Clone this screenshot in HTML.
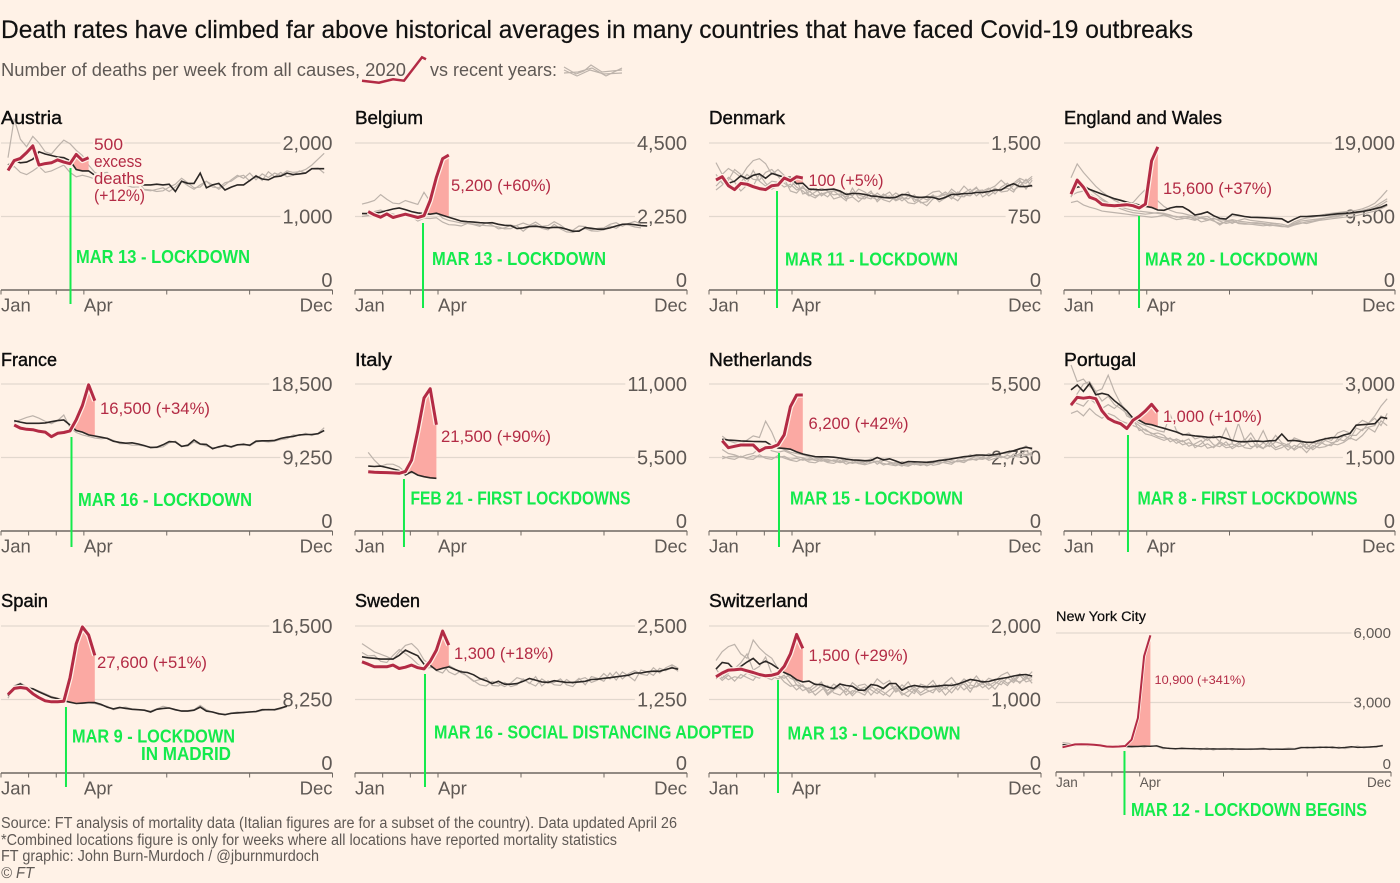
<!DOCTYPE html>
<html lang="en">
<head>
<meta charset="utf-8">
<title>Death rates have climbed far above historical averages</title>
<style>
html,body{margin:0;padding:0;background:#fff2e7;}
svg{display:block;font-family:"Liberation Sans",sans-serif;}
.title{font-size:25px;fill:#111;stroke:#111;stroke-width:.2px;}
.sub{font-size:18px;fill:#5f5955;}
.pt{font-size:18.5px;fill:#0d0d0d;stroke:#0d0d0d;stroke-width:.4px;}
.red{font-size:16.5px;fill:#b32b45;stroke:#fff2e7;stroke-width:4px;paint-order:stroke;stroke-linejoin:round;}
.grn{font-size:18px;font-weight:bold;fill:#14ea4c;}
.foot{font-size:15.5px;fill:#5f5955;}
</style>
</head>
<body>
<svg id="chart" xmlns="http://www.w3.org/2000/svg" width="1400" height="883" viewBox="0 0 1400 883">
<rect x="0" y="0" width="1400" height="883" fill="#fff2e7"/>
<g id="panels"></g>

<text class="title" x="1" y="38" textLength="1192" lengthAdjust="spacingAndGlyphs">Death rates have climbed far above historical averages in many countries that have faced Covid-19 outbreaks</text>
<text class="sub" x="1" y="76" textLength="405" lengthAdjust="spacingAndGlyphs">Number of deaths per week from all causes, 2020</text>
<polyline points="362,80.7 379,82.7 393,79.3 404,80.7 422,57.3 426,59.3" fill="none" stroke="#b32b45" stroke-width="2.5"/>
<text class="sub" x="430" y="76" textLength="127" lengthAdjust="spacingAndGlyphs">vs recent years:</text>
<g fill="none" stroke="#bdb3ab" stroke-width="1.2">
<polyline points="564,67 576,74 584,71 591,65 602,72 622,70"/>
<polyline points="564,70 577,76 590,70 604,74 622,73"/>
<polyline points="564,73 578,72 592,68 606,76 622,68"/>
</g>

<text class="pt" x="1" y="124" textLength="61" lengthAdjust="spacingAndGlyphs">Austria</text>
<text class="pt" x="355" y="124" textLength="68" lengthAdjust="spacingAndGlyphs">Belgium</text>
<text class="pt" x="709" y="124" textLength="76" lengthAdjust="spacingAndGlyphs">Denmark</text>
<text class="pt" x="1064" y="124" textLength="158" lengthAdjust="spacingAndGlyphs">England and Wales</text>
<text class="pt" x="1" y="366" textLength="56" lengthAdjust="spacingAndGlyphs">France</text>
<text class="pt" x="355" y="366" textLength="37" lengthAdjust="spacingAndGlyphs">Italy</text>
<text class="pt" x="709" y="366" textLength="103" lengthAdjust="spacingAndGlyphs">Netherlands</text>
<text class="pt" x="1064" y="366" textLength="72" lengthAdjust="spacingAndGlyphs">Portugal</text>
<text class="pt" x="1" y="607" textLength="47" lengthAdjust="spacingAndGlyphs">Spain</text>
<text class="pt" x="355" y="607" textLength="65" lengthAdjust="spacingAndGlyphs">Sweden</text>
<text class="pt" x="709" y="607" textLength="99" lengthAdjust="spacingAndGlyphs">Switzerland</text>
<text class="pt" x="1056" y="621" textLength="90" lengthAdjust="spacingAndGlyphs" style="font-size:13.5px;stroke-width:.2px">New York City</text>

<g id="annotations">
<text class="red" x="94" y="150" textLength="29" lengthAdjust="spacingAndGlyphs">500</text>
<text class="red" x="94" y="167" textLength="48" lengthAdjust="spacingAndGlyphs">excess</text>
<text class="red" x="94" y="184" textLength="50" lengthAdjust="spacingAndGlyphs">deaths</text>
<text class="red" x="94" y="201" textLength="51" lengthAdjust="spacingAndGlyphs">(+12%)</text>
<text class="red" x="451" y="191" textLength="100" lengthAdjust="spacingAndGlyphs">5,200 (+60%)</text>
<text class="red" x="808.5" y="186" textLength="75" lengthAdjust="spacingAndGlyphs">100 (+5%)</text>
<text class="red" x="1163" y="194" textLength="109" lengthAdjust="spacingAndGlyphs">15,600 (+37%)</text>
<text class="red" x="100" y="414" textLength="110" lengthAdjust="spacingAndGlyphs">16,500 (+34%)</text>
<text class="red" x="441" y="442" textLength="110" lengthAdjust="spacingAndGlyphs">21,500 (+90%)</text>
<text class="red" x="808.5" y="429" textLength="100" lengthAdjust="spacingAndGlyphs">6,200 (+42%)</text>
<text class="red" x="1163" y="422" textLength="99" lengthAdjust="spacingAndGlyphs">1,000 (+10%)</text>
<text class="red" x="97" y="668" textLength="110" lengthAdjust="spacingAndGlyphs">27,600 (+51%)</text>
<text class="red" x="454" y="659" textLength="99.5" lengthAdjust="spacingAndGlyphs">1,300 (+18%)</text>
<text class="red" x="808.5" y="661" textLength="99.5" lengthAdjust="spacingAndGlyphs">1,500 (+29%)</text>
<text class="red" x="1154.5" y="684" textLength="91" lengthAdjust="spacingAndGlyphs" style="font-size:12px;stroke-width:3px">10,900 (+341%)</text>

<text class="grn" x="76" y="263" textLength="174" lengthAdjust="spacingAndGlyphs">MAR 13 - LOCKDOWN</text>
<text class="grn" x="432" y="265" textLength="174" lengthAdjust="spacingAndGlyphs">MAR 13 - LOCKDOWN</text>
<text class="grn" x="785" y="265.5" textLength="173" lengthAdjust="spacingAndGlyphs">MAR 11 - LOCKDOWN</text>
<text class="grn" x="1145" y="265.5" textLength="173" lengthAdjust="spacingAndGlyphs">MAR 20 - LOCKDOWN</text>
<text class="grn" x="78" y="506" textLength="174" lengthAdjust="spacingAndGlyphs">MAR 16 - LOCKDOWN</text>
<text class="grn" x="410.5" y="504.5" textLength="220" lengthAdjust="spacingAndGlyphs">FEB 21 - FIRST LOCKDOWNS</text>
<text class="grn" x="790" y="504.5" textLength="173" lengthAdjust="spacingAndGlyphs">MAR 15 - LOCKDOWN</text>
<text class="grn" x="1137.5" y="504.5" textLength="220" lengthAdjust="spacingAndGlyphs">MAR 8 - FIRST LOCKDOWNS</text>
<text class="grn" x="72" y="742.5" textLength="163" lengthAdjust="spacingAndGlyphs">MAR 9 - LOCKDOWN</text>
<text class="grn" x="141" y="760" textLength="90" lengthAdjust="spacingAndGlyphs">IN MADRID</text>
<text class="grn" x="434" y="738.5" textLength="320" lengthAdjust="spacingAndGlyphs">MAR 16 - SOCIAL DISTANCING ADOPTED</text>
<text class="grn" x="787.5" y="739.5" textLength="173" lengthAdjust="spacingAndGlyphs">MAR 13 - LOCKDOWN</text>
<text class="grn" x="1131" y="816" textLength="236" lengthAdjust="spacingAndGlyphs">MAR 12 - LOCKDOWN BEGINS</text>
</g>

<text class="foot" x="1" y="828" textLength="676" lengthAdjust="spacingAndGlyphs">Source: FT analysis of mortality data (Italian figures are for a subset of the country). Data updated April 26</text>
<text class="foot" x="1" y="845" textLength="616" lengthAdjust="spacingAndGlyphs">*Combined locations figure is only for weeks where all locations have reported mortality statistics</text>
<text class="foot" x="1" y="861" textLength="318" lengthAdjust="spacingAndGlyphs">FT graphic: John Burn-Murdoch / @jburnmurdoch</text>
<text class="foot" x="1" y="878" textLength="33" lengthAdjust="spacingAndGlyphs" font-style="italic">© FT</text>
</svg>

<script>
// ---- Data (deaths per week) ----
const monthTicks = [0, 1, 2, 3, 6, 9, 12];
const xLabels = ['Jan', 'Apr', 'Dec'];

const austriaTicks = ['2,000', '1,000', '0'];
const austriaTickValues = [2000, 1000, 0];
const austriaBlack = [1700,1760,1730,1740,1780,1880,1850,1830,1810,1800,1760,1640,1620,1620,1560,1530,1510,1500,1490,1470,1470,1440,1430,1430,1440,1430,1440,1340,1480,1450,1450,1590,1390,1430,1450,1360,1400,1430,1430,1490,1550,1510,1500,1540,1550,1590,1570,1580,1590,1650,1650,1650];
const austria2020 = [1626,1760,1790,1870,1960,1700,1720,1730,1770,1740,1718,1845,1763,1800];
const austriaGrey1 = [1800,2330,2050,1950,2090,2000,1880,1850,1950,2040,1990,1900,1830,1700,1600,1560,1550,1500,1480,1430,1400,1400,1370,1360,1340,1350,1400,1440,1520,1460,1390,1400,1480,1430,1370,1430,1500,1560,1520,1590,1500,1580,1530,1590,1560,1620,1600,1610,1640,1700,1780,1860];
const austriaGrey2 = [1640,1680,1600,1570,1620,1680,1600,1620,1660,1700,1600,1540,1560,1540,1510,1590,1600,1520,1500,1460,1470,1480,1360,1350,1370,1390,1340,1400,1480,1420,1370,1430,1480,1400,1390,1460,1480,1540,1560,1480,1560,1490,1610,1540,1600,1540,1560,1620,1590,1650,1660,1590];

const belgiumTicks = ['4,500', '2,250', '0'];
const belgiumTickValues = [4500, 2250, 0];
const belgiumBlack = [2340,2340,2350,2380,2430,2480,2510,2460,2400,2360,2340,2320,2350,2290,2230,2170,2110,2090,2080,2060,2050,2060,2010,1980,1970,1880,1900,1940,1950,1930,1900,1920,1910,1860,1800,1800,1910,1890,1860,1860,1900,1960,2010,2020,2000,1970,1960];
const belgium2020 = [null,2400,2300,2230,2330,2220,2270,2320,2270,2220,2275,2740,3450,4020,4130];
const belgiumGrey1 = [2630,2680,2740,2920,2780,2660,2640,2740,2680,2620,2990,2700,2400,2200,2130,2090,2050,2040,2020,1990,1970,1960,1930,1870,1880,1980,2050,1980,2080,1950,1970,2090,1990,1850,1830,1960,1940,1840,1890,1900,2010,2060,1950,2040,2100,2020];
const belgiumGrey2 = [2250,2280,2400,2450,2370,2330,2270,2300,2240,2110,2200,2190,2210,2080,2000,1990,1960,2040,2000,1950,2060,1990,1870,1900,1980,1960,1800,1950,2000,1890,1840,2010,1870,1780,1760,1830,1880,1810,1800,1840,1960,1890,2010,1990,1930,1900];

const denmarkTicks = ['1,500', '750', '0'];
const denmarkTickValues = [1500, 750, 0];
const denmarkBlack = [1133,1140,1090,1110,1165,1135,1170,1185,1140,1190,1170,1150,1150,1085,1090,1030,1025,1020,1025,1030,1010,975,985,985,975,960,955,945,940,945,975,970,950,945,950,945,925,945,975,975,985,985,995,995,1005,1020,1020,1060,1085,1055,1055,1065];
const denmark2020 = [1122,1156,1064,1024,1088,1080,1054,1035,1024,1064,1071,1143,1115,1156,1143];
const denmarkGrey1 = [1300,1180,1240,1200,1150,1250,1320,1340,1290,1180,1230,1170,1120,1050,1010,960,1000,1040,1010,930,950,990,960,1030,1000,950,920,980,940,990,950,890,880,920,960,1000,1010,950,1030,980,1060,1000,1040,990,1030,1060,1120,1060,1090,1140,1110,1160];
const denmarkGrey2 = [1060,1130,1060,1040,1100,1180,1130,1120,1200,1230,1160,1090,1050,1120,980,1000,1050,960,1000,1010,960,910,1040,940,930,990,960,920,900,960,910,960,930,900,860,930,960,1000,950,910,990,1030,960,1010,1040,980,1050,1090,1020,1060,1130,1050];
const denmarkGrey3 = [1020,1070,1150,1100,1010,1070,1060,1180,1090,1030,1060,1140,1010,990,1060,970,940,990,950,1020,1000,930,950,900,960,1010,900,960,1000,920,960,1000,900,950,920,970,900,940,1000,960,950,1000,1050,950,990,1040,1000,1010,1070,1120,1030,1120];
const denmarkGrey4 = [1180,1090,1120,1230,1180,1090,1220,1110,1060,1110,1100,1050,1080,1020,1040,1010,960,980,1000,970,980,950,1000,970,950,930,990,940,960,910,940,930,970,890,900,960,950,980,930,1000,970,960,1010,1020,960,1010,1030,1040,1000,1100,1090,1140];

const englandTicks = ['19,000', '9,500', '0'];
const englandTickValues = [19000, 9500, 0];
const englandBlack = [12900,13300,13400,13000,12700,12400,12100,11800,11600,11350,11150,11000,10800,10680,10340,10300,10600,10770,10750,10300,9700,9850,10100,9600,9250,9180,9800,9650,9500,9400,9380,9350,9300,9250,9200,8750,9150,9500,9500,9550,9600,9650,9750,9850,9900,9950,10050,10150,10300,10500,10700,11050];
const england2020 = [12400,14200,13300,12000,11700,11050,10950,10900,10950,11030,10900,10600,11100,16700,18500];
const englandGrey1 = [14500,16300,15200,14300,13400,12700,12100,11600,11200,11000,11300,12200,13000,12400,11500,10800,10300,10000,9900,9700,9500,9300,9000,9200,9100,9000,8600,9000,9200,9000,8900,8800,8700,8600,8500,8300,8800,9100,9300,9400,9600,9800,9900,10000,10100,10200,10300,10500,10800,11200,12000,12900];
const englandGrey2 = [12200,12600,12800,12400,12000,11600,11200,10900,10700,10500,10300,10200,10100,10000,9900,9800,9600,9500,9300,9200,9000,9400,9500,9000,8400,8900,9100,8900,8800,8700,8700,8600,8500,8600,8500,8300,8600,8900,9000,9100,9200,9300,9400,9500,9700,9800,9900,10100,10300,10600,11000,11500];
const englandGrey3 = [11300,11500,11000,10700,10500,10200,10100,10000,9900,9800,9700,9600,9500,9400,9500,9700,9400,9100,9200,9400,9300,8800,9000,9300,8900,8600,8800,8700,8600,8500,8400,8300,8400,8300,8200,8200,8500,8700,8600,8800,9000,9100,9200,9300,9400,9500,9600,9800,10000,10200,10500,10900];
const englandGrey4 = [12000,14200,13600,13000,12400,11800,11300,10900,10500,10200,10000,9900,9800,9900,10000,9900,9700,9400,9500,9500,9100,9300,9200,8900,8600,8800,9000,8600,8500,8500,8600,8500,8300,8400,8300,8100,8400,8600,8800,8900,9100,9300,9500,9700,9800,9900,10100,10300,10500,10800,11300,11800];

const franceTicks = ['18,500', '9,250', '0'];
const franceTickValues = [18500, 9250, 0];
const franceBlack = [null,13885,13700,13550,13550,13550,13600,13760,13900,13970,13340,12650,12450,12100,11950,11800,11650,11300,11150,11050,11100,10950,10750,10500,10550,10850,11250,11200,10650,10800,11450,10950,10900,10350,10600,10750,10600,10850,10900,10800,11300,11350,11350,11400,11650,11800,11900,12100,12150,12150,12250,12650];
const france2020 = [null,13340,12950,12800,12750,12550,12450,11870,12290,12400,12600,14000,15800,18400,16400];
const franceGrey1 = [null,13700,14000,14300,14500,14200,13800,13500,13900,14600,13000,12400,12100,11900,11700,11600,11700,11400,11000,11000,10800,10800,10700,10600,10500,10600,11100,11300,10700,10700,11200,10900,10700,10500,10500,10900,10500,10800,11000,10700,11200,11300,11200,11300,11500,11600,12100,12000,12300,12000,12300,13000];

const italyTicks = ['11,000', '5,500', '0'];
const italyTickValues = [11000, 5500, 0];
const italyBlack = [null,4860,4830,4860,4750,4640,4520,4200,4440,4180,4060,3980,3940];
const italy2020 = [null,4440,4400,4380,4370,4350,4320,4450,5300,7500,9950,10650,7950];
const italyGrey1 = [null,5880,5300,4850,5000,5000,4800,4400,4350,4450,4150,4050,3950];

const netherlandsTicks = ['5,500', '2,750', '0'];
const netherlandsTickValues = [5500, 2750, 0];
const netherlandsBlack = [null,3430,3400,3390,3370,3360,3350,3345,3340,3200,3110,3090,3060,2960,2880,2830,2780,2775,2775,2760,2730,2690,2660,2650,2630,2640,2750,2660,2700,2620,2530,2600,2590,2580,2570,2590,2640,2660,2700,2740,2780,2800,2840,2840,2830,2860,2900,2960,3000,3080,3130,3090];
const netherlands2020 = [null,3380,3118,3170,3217,3217,3217,2990,3118,3130,3230,3600,4650,5090,5090];
const netherlandsGrey1 = [null,3550,3380,3300,3260,3400,3560,3500,4110,3700,3150,3050,2950,2900,2850,2780,2650,2700,2680,2610,2720,2590,2560,2600,2520,2650,2580,2700,2560,2450,2600,2520,2540,2500,2580,2620,2610,2700,2680,2750,2700,2850,2780,2760,2900,2820,2920,2880,3000,3060,3180,3020];
const netherlandsGrey2 = [null,2700,2780,2800,2760,2740,2820,2780,2780,2750,2750,2800,2680,2720,2650,2700,2640,2610,2650,2620,2560,2600,2530,2580,2620,2560,2600,2530,2480,2440,2530,2470,2500,2460,2500,2570,2540,2580,2630,2590,2640,2660,2700,2680,2760,2800,2740,2830,2750,2900,2860,2940];
const netherlandsGrey3 = [null,3050,2900,2850,2760,2850,2900,3100,3200,3000,2950,3000,2900,2780,2740,2650,2700,2740,2590,2660,2600,2650,2680,2520,2590,2700,2500,2650,2590,2510,2430,2560,2480,2540,2440,2520,2600,2540,2500,2660,2620,2700,2800,2720,2700,2840,2800,2700,2880,2830,3000,2800];
const netherlandsGrey4 = [null,2800,2720,2680,2800,2700,2680,2850,2720,2680,2820,2730,2650,2600,2700,2580,2550,2660,2560,2530,2640,2500,2590,2520,2480,2540,2620,2470,2530,2560,2470,2420,2530,2450,2560,2460,2500,2620,2560,2610,2560,2700,2650,2780,2640,2720,2780,2720,2800,2760,2820,2880];

const portugalTicks = ['3,000', '1,500', '0'];
const portugalTickValues = [3000, 1500, 0];
const portugalBlack = [2880,2980,2850,3010,2780,2810,2780,2660,2560,2450,2300,2260,2190,2170,2130,2095,2060,2020,1970,1960,1940,1930,1915,1910,1925,1890,1850,1825,1820,1830,1835,1825,1840,1845,1980,1840,1850,1830,1810,1810,1850,1880,1905,1910,1960,1990,2160,2170,2180,2190,2320,2300];
const portugal2020 = [2570,2728,2710,2728,2700,2450,2300,2230,2190,2090,2260,2340,2450,2585,2430];
const portugalGrey1 = [3390,3050,3100,2950,2850,2900,3180,2850,2600,2450,2300,2200,2150,2100,2050,2020,2380,2050,1950,2000,1880,1920,1850,1950,1820,2100,1800,2200,1850,2000,1800,2050,1770,1950,1800,1750,1900,1850,1700,1800,1780,1900,1850,2000,2050,2000,2150,2260,2200,2350,2550,2700];
const portugalGrey2 = [2550,2800,3000,3050,2850,2650,2750,2580,2500,2400,2250,2150,2050,2000,1930,1900,1880,1850,1760,1800,1750,1720,1780,1700,1820,1750,1780,1720,1750,1900,1700,1800,1720,1820,1780,1650,1750,1700,1780,1660,1750,1850,1800,1830,1950,1880,2100,2050,2200,2300,2150,2400];
const portugalGrey3 = [2400,2450,2350,2500,2380,2300,2400,2350,2250,2200,2150,2100,1980,1950,1900,1850,1900,1790,1850,1730,1780,1850,1690,1720,1790,1700,1720,1800,1700,1680,1780,1690,1760,1660,1700,1780,1650,1730,1600,1750,1700,1720,1780,1760,1810,1900,1850,1950,2100,2020,2250,2150];
const portugalGrey4 = [2650,2600,2550,2700,2600,2500,2580,2500,2620,2350,2280,2050,2080,1980,2000,1950,1820,1880,1820,1880,1700,1780,1900,1760,1720,1820,1680,1760,1870,1720,1740,1680,1850,1700,1760,1720,1680,1800,1680,1700,1830,1760,1740,1880,1840,1950,1950,2080,2120,2150,2350,2280];

const spainTicks = ['16,500', '8,250', '0'];
const spainTickValues = [16500, 8250, 0];
const spainBlack = [8700,9700,10000,9500,9450,9100,8800,8500,8350,8100,7950,7800,7850,7900,7900,7700,7400,7200,7350,7250,7150,7100,7050,6850,7150,7250,7300,7100,6950,6950,7050,7400,6950,6850,6650,6550,6700,6750,6800,6850,6900,7100,7100,7100,7300,7500];
const spain2020 = [8800,9500,9600,9500,8900,8450,8100,7990,7990,8050,10700,14500,16400,15500,13200];
const spainGrey1 = [8400,9800,10100,9700,9500,9200,8900,8600,8400,8200,8000,7800,7800,7900,7800,7600,7500,7100,7300,7400,7200,7100,7050,6950,7200,7500,7300,7050,7000,7000,7100,7600,7100,6800,6700,6500,6700,6850,6750,6900,6850,7000,7150,7050,7200,7500];

const swedenTicks = ['2,500', '1,250', '0'];
const swedenTickValues = [2500, 1250, 0];
const swedenBlack = [1977,1960,1950,1937,1937,1937,2000,2090,2040,1994,1850,1830,1750,1780,1806,1760,1720,1710,1670,1607,1570,1522,1560,1510,1511,1520,1560,1607,1580,1550,1540,1570,1555,1540,1540,1550,1560,1590,1596,1610,1620,1636,1650,1664,1700,1700,1721,1732,1730,1760,1789,1766];
const sweden2020 = [1891,1850,1806,1806,1806,1835,1778,1800,1835,1790,1770,1900,2090,2414,2175];
const swedenGrey1 = [2200,2130,2060,2020,1980,1930,2060,2170,2200,2100,1920,1850,1740,1700,1830,1770,1700,1650,1570,1500,1480,1560,1520,1470,1530,1620,1590,1530,1480,1600,1530,1540,1600,1500,1470,1590,1620,1540,1580,1690,1600,1720,1600,1690,1740,1680,1660,1790,1700,1790,1840,1780];
const swedenGrey2 = [2050,1990,2000,1900,1880,2000,2100,2030,1950,1850,1780,1790,1800,1850,1720,1670,1740,1640,1560,1590,1620,1490,1480,1540,1470,1500,1600,1520,1640,1480,1570,1500,1490,1590,1520,1610,1500,1640,1610,1560,1700,1580,1720,1650,1570,1750,1720,1660,1780,1740,1810,1730];

const switzerlandTicks = ['2,000', '1,000', '0'];
const switzerlandTickValues = [2000, 1000, 0];
const switzerlandBlack = [1413,1504,1490,1400,1450,1510,1559,1480,1522,1480,1423,1368,1330,1270,1240,1250,1204,1204,1170,1150,1209,1190,1180,1127,1127,1204,1190,1150,1218,1218,1127,1170,1190,1175,1170,1175,1185,1195,1190,1210,1240,1272,1260,1240,1245,1270,1286,1300,1320,1335,1340,1318];
const switzerland2020 = [1309,1360,1400,1405,1413,1390,1368,1340,1322,1330,1354,1450,1620,1886,1695];
const switzerlandGrey1 = [1530,1650,1720,1750,1620,1560,1810,1700,1620,1560,1420,1380,1290,1250,1180,1140,1220,1180,1120,1210,1150,1100,1230,1160,1100,1160,1280,1210,1260,1110,1200,1130,1080,1210,1180,1260,1130,1230,1300,1190,1280,1220,1320,1210,1290,1250,1330,1370,1260,1350,1290,1380];
const switzerlandGrey2 = [1420,1290,1360,1420,1500,1620,1400,1450,1580,1350,1320,1290,1340,1200,1180,1110,1170,1240,1080,1150,1220,1140,1080,1190,1210,1130,1080,1160,1220,1100,1150,1240,1110,1180,1130,1090,1200,1140,1220,1130,1250,1150,1180,1260,1190,1240,1200,1300,1230,1330,1240,1270];
const switzerlandGrey3 = [1280,1330,1270,1310,1290,1360,1320,1290,1350,1320,1280,1330,1220,1130,1200,1090,1120,1190,1060,1130,1180,1060,1120,1100,1060,1180,1120,1060,1130,1180,1060,1110,1170,1090,1150,1200,1100,1170,1090,1190,1210,1100,1240,1160,1220,1140,1250,1190,1300,1220,1320,1220];
const switzerlandGrey4 = [1350,1260,1330,1250,1340,1300,1260,1370,1300,1270,1340,1240,1180,1200,1120,1160,1060,1130,1190,1090,1060,1150,1050,1130,1170,1060,1150,1100,1040,1150,1090,1040,1140,1060,1100,1130,1170,1060,1150,1220,1130,1200,1170,1220,1140,1210,1280,1220,1260,1240,1280,1300];

const nycTicks = ['6,000', '3,000', '0'];
const nycTickValues = [6000, 3000, 0];
const nycBlack = [1180,1170,1150,1180,1190,1170,1150,1130,1110,1105,1108,1100,1100,1120,1108,1130,1050,1020,1007,1020,1010,1000,1000,990,1000,990,990,1000,985,985,990,990,1000,985,985,980,985,990,1050,1060,1050,1070,1060,1070,1040,1060,1090,1060,1070,1080,1100,1137];
const nyc2020 = [1065,1130,1190,1194,1190,1180,1150,1100,1094,1100,1122,1396,2330,5000,5900];
const nycGrey1 = [1270,1240,1170,1220,1130,1170,1200,1120,1100,1150,1080,1060,1120,1070,1130,1110,1000,1040,980,1050,1000,1030,960,1040,950,1010,1020,960,1010,1000,970,1010,1030,960,1000,1000,1030,1010,1080,1030,1090,1040,1100,1020,1080,1010,1060,1120,1040,1100,1070,1170];

const lockdownWeeks = [10.08, 9.84, 9.84, 10.97, 10.24, 6.77, 10.16, 9.19, 9.35, 10.16, 10, 9.87];

// ---- Layout (panel frames only; marks come from the arrays above) ----
const rows = [{top:143,base:290},{top:384,base:531},{top:626,base:773}];
const cols = [{l:1,r:332.5},{l:355,r:687},{l:709,r:1041},{l:1064,r:1395}];
const panels = [
 {id:'austria',c:0,r:0,t:austriaTicks,v:austriaTickValues,black:austriaBlack,red:austria2020,grey:[austriaGrey1,austriaGrey2],lt:168,lb:304},
 {id:'belgium',c:1,r:0,t:belgiumTicks,v:belgiumTickValues,black:belgiumBlack,red:belgium2020,grey:[belgiumGrey1,belgiumGrey2],lt:223,lb:308},
 {id:'denmark',c:2,r:0,t:denmarkTicks,v:denmarkTickValues,black:denmarkBlack,red:denmark2020,grey:[denmarkGrey1,denmarkGrey2,denmarkGrey3,denmarkGrey4],lt:191,lb:308},
 {id:'england-wales',c:3,r:0,t:englandTicks,v:englandTickValues,black:englandBlack,red:england2020,grey:[englandGrey1,englandGrey2,englandGrey3,englandGrey4],lt:216,lb:308},
 {id:'france',c:0,r:1,t:franceTicks,v:franceTickValues,black:franceBlack,red:france2020,grey:[franceGrey1],lt:437,lb:547},
 {id:'italy',c:1,r:1,t:italyTicks,v:italyTickValues,black:italyBlack,red:italy2020,grey:[italyGrey1],lt:479,lb:547},
 {id:'netherlands',c:2,r:1,t:netherlandsTicks,v:netherlandsTickValues,black:netherlandsBlack,red:netherlands2020,grey:[netherlandsGrey1,netherlandsGrey2,netherlandsGrey3,netherlandsGrey4],lt:453,lb:547},
 {id:'portugal',c:3,r:1,t:portugalTicks,v:portugalTickValues,black:portugalBlack,red:portugal2020,grey:[portugalGrey1,portugalGrey2,portugalGrey3,portugalGrey4],lt:435,lb:552},
 {id:'spain',c:0,r:2,t:spainTicks,v:spainTickValues,black:spainBlack,red:spain2020,grey:[spainGrey1],lt:707,lb:787},
 {id:'sweden',c:1,r:2,t:swedenTicks,v:swedenTickValues,black:swedenBlack,red:sweden2020,grey:[swedenGrey1,swedenGrey2],lt:674,lb:787},
 {id:'switzerland',c:2,r:2,t:switzerlandTicks,v:switzerlandTickValues,black:switzerlandBlack,red:switzerland2020,grey:[switzerlandGrey1,switzerlandGrey2,switzerlandGrey3,switzerlandGrey4],lt:680,lb:793},
 {id:'new-york-city',frame:{l:1056,r:1391,top:633,base:772},small:true,t:nycTicks,v:nycTickValues,black:nycBlack,red:nyc2020,grey:[nycGrey1],lt:751,lb:815}
];

const NS = 'http://www.w3.org/2000/svg';
const root = document.getElementById('panels');
function make(tag, parent, attrs) {
  const el = document.createElementNS(NS, tag);
  for (const k in attrs) el.setAttribute(k, attrs[k]);
  parent.appendChild(el);
  return el;
}
function toPoints(arr, xs, ys) {
  const out = [];
  arr.forEach(function (v, i) { if (v !== null) out.push(xs(i).toFixed(1) + ',' + ys(v).toFixed(1)); });
  return out.join(' ');
}

panels.forEach(function (p, idx) {
  const f = p.frame || {l: cols[p.c].l, r: cols[p.c].r, top: rows[p.r].top, base: rows[p.r].base};
  const small = !!p.small;
  const maxVal = p.v[0];
  const step = small ? 6.28 : 6.2;
  const xs = function (i) { return f.l + (small ? 6.5 : 7) + i * step; };
  const ys = function (v) { return f.base - (f.base - f.top) * v / maxVal; };
  const xm = function (m) { return f.l + (f.r - f.l) * m / 12; };

  const g = make('g', root, {});
  
  

  // value ticks and gridlines
  p.t.forEach(function (label, k) {
    const val = p.v[k];
    const tick = make('text', g, {x: f.r, y: val === 0 ? f.base - 3 : ys(val) + (small ? 5 : 7), 'text-anchor': 'end', 'font-size': small ? 15 : 20, fill: '#5f5955'});
    tick.textContent = label;
    
    
    if (val !== 0) {
      const grid = make('line', g, {x1: f.l, x2: f.r - tick.getComputedTextLength() - 2, y1: ys(val), y2: ys(val), stroke: '#e2d8ce', 'stroke-width': 1.3});
      
      
    }
  });

  // x axis
  const axis = make('line', g, {x1: f.l, x2: f.r, y1: f.base, y2: f.base, stroke: '#6f6862', 'stroke-width': 1.5});
  
  
  monthTicks.forEach(function (m) {
    const t = make('line', g, {x1: xm(m), x2: xm(m), y1: f.base, y2: f.base + 4.5, stroke: '#6f6862', 'stroke-width': 1});
    
    
  });
  const lx = [f.l, xm(3), f.r];
  const anchors = ['start', 'start', 'end'];
  xLabels.forEach(function (label, k) {
    const t = make('text', g, {x: lx[k], y: f.base + (small ? 15 : 21.5), 'text-anchor': anchors[k], 'font-size': small ? 13.5 : 18.5, fill: '#5f5955'});
    t.textContent = label;
    
    
  });

  // recent-year lines
  p.grey.forEach(function (arr, k) {
    const l = make('polyline', g, {points: toPoints(arr, xs, ys), fill: 'none', stroke: '#bdb3ab', 'stroke-width': 1.2});
    
    
  });

  // excess-deaths area between the 2020 line and the average
  let k = p.red.length - 1;
  while (k > 0 && p.red[k] !== null && p.black[k] !== null && p.red[k] > p.black[k]) k--;
  const top = [], bottom = [];
  for (let i = k; i < p.red.length; i++) {
    top.push(xs(i).toFixed(1) + ',' + ys(p.red[i]).toFixed(1));
    bottom.unshift(xs(i).toFixed(1) + ',' + ys(p.black[i]).toFixed(1));
  }
  const area = make('polygon', g, {points: top.concat(bottom).join(' '), fill: '#fba9a3'});
  
  

  // average line
  const avg = make('polyline', g, {points: toPoints(p.black, xs, ys), fill: 'none', stroke: '#2b2725', 'stroke-width': small ? 1.4 : 1.6});
  
  

  // 2020 line with a halo
  const halo = make('polyline', g, {points: toPoints(p.red, xs, ys), fill: 'none', stroke: '#fff2e7', 'stroke-width': small ? 3.5 : 5.5, 'stroke-linejoin': 'round'});
  
  
  const red = make('polyline', g, {points: toPoints(p.red, xs, ys), fill: 'none', stroke: '#b32b45', 'stroke-width': small ? 2 : 3, 'stroke-linejoin': 'round'});
  
  

  // lockdown marker
  const lock = make('line', g, {x1: xs(lockdownWeeks[idx]), x2: xs(lockdownWeeks[idx]), y1: p.lt, y2: p.lb, stroke: '#14ea4c', 'stroke-width': 2});
  
  
});
</script>
</body>
</html>
